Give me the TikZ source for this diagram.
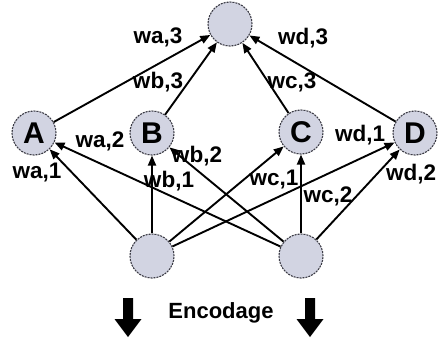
\documentclass[tikz,border=0pt]{standalone}
\usepackage{fontspec}
\setmainfont{Liberation Sans}
\usetikzlibrary{arrows.meta}
\definecolor{nodefill}{RGB}{210,212,226}
\definecolor{rim}{RGB}{60,60,70}
\begin{document}
\begin{tikzpicture}[x=1pt,y=-1pt,
  neuron/.style={circle,fill=nodefill,draw=rim,line width=1.1pt,
    dash pattern=on 2pt off 1pt,minimum size=44pt,inner sep=0pt,
    font=\fontsize{30}{30}\selectfont\bfseries},
  link/.style={line width=1.9pt,-{Triangle[length=10pt,width=8pt]}},
  wt/.style={font=\fontsize{22.5}{22.5}\selectfont\bfseries,inner sep=0pt},
  caption/.style={font=\fontsize{22}{22}\selectfont\bfseries,inner sep=0pt}]
\useasboundingbox (0,0) rectangle (438,338);

% network nodes
\node[neuron] (top) at (230,24) {};
\node[neuron] (A) at (34,133) {A};
\node[neuron] (B) at (152,133) {B};
\node[neuron] (C) at (301,132) {C};
\node[neuron] (D) at (415,133) {D};
\node[neuron] (in1) at (152,256) {};
\node[neuron] (in2) at (301,256) {};

% weighted connections
\draw[link] (A) -- (top);
\draw[link] (B) -- (top);
\draw[link] (C) -- (top);
\draw[link] (D) -- (top);
\draw[link] (in1) -- (A);
\draw[link] (in2) -- (A);
\draw[link] (in1) -- (B);
\draw[link] (in2) -- (B);
\draw[link] (in1) -- (C);
\draw[link] (in2) -- (C);
\draw[link] (in1) -- (D);
\draw[link] (in2) -- (D);

% weight labels
\node[wt] (la3) at (158,37) {wa,3};
\node[wt] (lb3) at (158,82) {wb,3};
\node[wt] (lc3) at (292,82) {wc,3};
\node[wt] (ld3) at (303,38) {wd,3};
\node[wt] (la2) at (100,141) {wa,2};
\node[wt] (la1) at (37,172) {wa,1};
\node[wt] (lb2) at (197,156) {wb,2};
\node[wt] (lb1) at (169,181) {wb,1};
\node[wt] (lc1) at (274,179) {wc,1};
\node[wt] (lc2) at (328,196) {wc,2};
\node[wt] (ld1) at (360,135) {wd,1};
\node[wt] (ld2) at (411,174) {wd,2};

% encoding caption with block arrows
\node[caption] (enc) at (221,313) {Encodage};
\foreach \cx in {128,310}{
  \fill (\cx-5,298) -- (\cx+5,298) -- (\cx+5,319) -- (\cx+13.5,319)
        -- (\cx,337) -- (\cx-13.5,319) -- (\cx-5,319) -- cycle;
}
\end{tikzpicture}
\end{document}
